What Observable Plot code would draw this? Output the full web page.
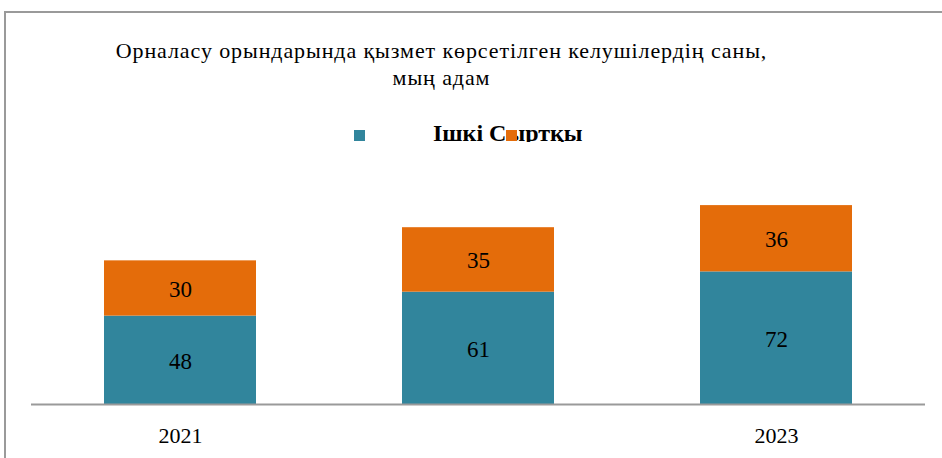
<!DOCTYPE html>
<html>
<head>
<meta charset="utf-8">
<script src="https://cdn.jsdelivr.net/npm/d3@7"></script>
<script src="https://cdn.jsdelivr.net/npm/@observablehq/plot@0.6"></script>
<style>
  html, body { margin: 0; padding: 0; background: #fff; }
  #wrap { position: relative; width: 942px; height: 458px; overflow: hidden; font-family: "Liberation Serif", "Times New Roman", serif; }
  #frame { position: absolute; left: 4px; top: 11px; width: 960px; height: 470px; border-top: 2px solid #9a9a9a; border-left: 2px solid #9a9a9a; box-sizing: border-box; }
  .title { position: absolute; left: 0; width: 883px; text-align: center; font-size: 22px; letter-spacing: 0.9px; line-height: 28px; color: #000; white-space: nowrap; }
  #legend { position: absolute; left: 0; top: 118px; width: 942px; height: 24px; overflow: hidden; }
  #legtext { position: absolute; left: 433px; top: 0px; font-weight: bold; font-size: 24px; line-height: 30px; color: #000; white-space: nowrap; }
  .sw { position: absolute; width: 11px; height: 11px; }
  #chart { position: absolute; left: 0; top: 0; }
</style>
</head>
<body>
<div id="wrap">
  <div id="frame"></div>
  <div id="chart"></div>
  <div class="title" id="t1" style="top:37px"></div>
  <div class="title" id="t2" style="top:64px"></div>
  <div id="legend"><span id="legtext"></span></div>
</div>
<script>
const years = ["2021", "2022", "2023"];
const series = ["Ішкі", "Сыртқы"];
const innerValues = [48, 61, 72];
const outerValues = [30, 35, 36];
const tickLabels = ["2021", "2023"];
const titleLines = ["Орналасу орындарында қызмет көрсетілген келушілердің саны,", "мың адам"];
const colors = ["#31859C", "#E46C0A"];

const rows = [];
years.forEach((y, i) => {
  rows.push({year: y, series: series[0], value: innerValues[i]});
  rows.push({year: y, series: series[1], value: outerValues[i]});
});

document.getElementById("t1").textContent = titleLines[0];
document.getElementById("t2").textContent = titleLines[1];

// legend
const legend = document.getElementById("legend");
document.getElementById("legtext").textContent = series.join(" ");
const sw1 = document.createElement("div");
sw1.className = "sw"; sw1.style.left = "354px"; sw1.style.top = "12px"; sw1.style.background = colors[0];
legend.appendChild(sw1);
const sw2 = document.createElement("div");
sw2.className = "sw"; sw2.style.left = "506px"; sw2.style.top = "12px"; sw2.style.background = colors[1];
legend.appendChild(sw2);

const chart = Plot.plot({
  width: 942,
  height: 458,
  marginTop: 183,
  marginBottom: 54,
  marginLeft: 31,
  marginRight: 17,
  style: {fontFamily: "'Liberation Serif', 'Times New Roman', serif", background: "transparent", color: "#000"},
  x: {domain: years, paddingInner: 0.49, paddingOuter: 0.245, label: null},
  y: {domain: [0, 120], axis: null},
  color: {domain: series, range: colors},
  marks: [
    Plot.barY(rows, {x: "year", y: "value", fill: "series"}),
    Plot.ruleY([0], {stroke: "#9a9a9a", strokeWidth: 2}),
    Plot.text(rows, Plot.stackY({x: "year", y: "value", z: "series", text: d => String(d.value), fontSize: 23, fill: "#000", dy: 1})),
    Plot.axisX({ticks: tickLabels, tickSize: 0, tickPadding: 23, fontSize: 22, color: "#000", label: null})
  ]
});
document.getElementById("chart").appendChild(chart);
</script>
</body>
</html>
